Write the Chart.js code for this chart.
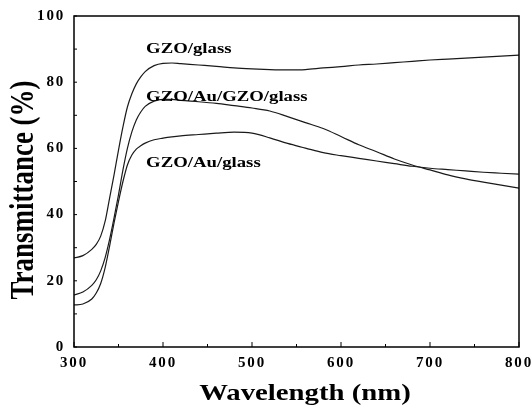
<!DOCTYPE html>
<html>
<head>
<meta charset="utf-8">
<script src="https://cdn.jsdelivr.net/npm/chart.js@4.4.1/dist/chart.umd.min.js"></script>
<style>
  html, body { margin: 0; padding: 0; background: #fff; }
  #wrap { width: 532px; height: 415px; }
</style>
</head>
<body>
<div id="wrap"><canvas id="myChart" width="532" height="415"></canvas></div>
<script>
// wavelength samples (nm)
var wavelengths = [300, 310, 320, 325, 330, 335, 340, 345, 350, 355, 360, 365, 370, 375, 380, 390, 400, 410, 420, 440, 460, 480,
                   500, 520, 540, 560, 580, 600, 620, 640, 660, 680, 700, 720, 740, 760, 780, 800];

// transmittance (%)
var gzoGlass = [26.9, 27.6, 29.5, 31.0, 33.5, 38.0, 45.0, 52.0, 59.5, 66.5, 72.5, 76.5, 79.5, 81.6, 83.2, 85.0, 85.7, 85.8, 85.6, 85.2, 84.8, 84.3,
                84.0, 83.8, 83.7, 83.8, 84.3, 84.7, 85.2, 85.5, 85.9, 86.3, 86.7, 87.0, 87.3, 87.6, 87.9, 88.2];
var gzoAuGzoGlass = [15.7, 16.6, 18.6, 20.3, 23.0, 27.0, 32.5, 39.0, 46.0, 53.5, 60.0, 65.0, 68.6, 71.0, 72.7, 74.3, 74.8, 74.8, 74.5, 74.1, 73.6, 72.9,
                     72.2, 71.3, 69.6, 67.8, 66.0, 63.6, 61.1, 59.0, 56.8, 55.0, 53.5, 52.0, 50.8, 49.8, 48.9, 48.0];
var gzoAuGlass = [12.7, 13.0, 14.5, 16.3, 19.2, 24.0, 30.5, 37.5, 44.0, 50.0, 55.0, 58.0, 59.8, 60.8, 61.6, 62.6, 63.1, 63.5, 63.8, 64.2, 64.6, 64.9,
                  64.6, 63.2, 61.5, 60.1, 58.7, 57.8, 57.0, 56.2, 55.4, 54.6, 54.0, 53.6, 53.2, 52.8, 52.5, 52.2];

var seriesLabels = ["GZO/glass", "GZO/Au/GZO/glass", "GZO/Au/glass"];
var xTicks = [300, 400, 500, 600, 700, 800];
var yTicks = [0, 20, 40, 60, 80, 100];

function toPoints(arr) {
  return wavelengths.map(function (w, i) { return { x: w, y: arr[i] }; });
}

function stretchedText(ctx, text, x, y, align, baseline, font, rot) {
  ctx.save();
  ctx.font = font;
  ctx.fillStyle = '#000';
  ctx.textAlign = align;
  ctx.textBaseline = baseline;
  ctx.letterSpacing = '0px';
  ctx.translate(x, y);
  ctx.scale(1.25, 1);
  if (rot) ctx.rotate(rot);
  ctx.fillText(text, 0, 0);
  ctx.restore();
}

var framePlugin = {
  id: 'frame',
  beforeDraw: function (chart) {
    chart.ctx.letterSpacing = '1.8px';
  },
  afterDraw: function (chart) {
    var ctx = chart.ctx;
    var a = chart.chartArea;
    var xs = chart.scales.x, ys = chart.scales.y;
    ctx.save();
    ctx.strokeStyle = '#000';
    ctx.lineWidth = 1.5;
    ctx.strokeRect(a.left, a.top, a.right - a.left, a.bottom - a.top);

    // inward tick marks
    ctx.lineWidth = 1;
    ctx.beginPath();
    for (var v = 300; v <= 800; v += 50) {
      var px = xs.getPixelForValue(v);
      var len = (v % 100 === 0) ? 5 : 3;
      ctx.moveTo(px, a.bottom);
      ctx.lineTo(px, a.bottom - len);
    }
    for (var t = 0; t <= 100; t += 10) {
      var py = ys.getPixelForValue(t);
      ctx.moveTo(a.left, py);
      ctx.lineTo(a.left + 3, py);
    }
    ctx.stroke();
    ctx.restore();

    // curve labels
    var f = 'bold 15px "Liberation Serif"';
    stretchedText(ctx, seriesLabels[0], xs.getPixelForValue(381), ys.getPixelForValue(90), 'left', 'middle', f);
    stretchedText(ctx, seriesLabels[1], xs.getPixelForValue(381), ys.getPixelForValue(75.5), 'left', 'middle', f);
    stretchedText(ctx, seriesLabels[2], xs.getPixelForValue(381), ys.getPixelForValue(55.6), 'left', 'middle', f);

    // axis titles
    stretchedText(ctx, 'Wavelength (nm)', 305, 400, 'center', 'alphabetic', 'bold 23px "Liberation Serif"');
    stretchedText(ctx, 'Transmittance (%)', 33, 190, 'center', 'alphabetic', 'bold 27px "Liberation Serif"', -Math.PI / 2);
    ctx.letterSpacing = '0px';
  }
};

function lineSet(label, arr) {
  return {
    label: label,
    data: toPoints(arr),
    borderColor: '#1a1a1a',
    borderWidth: 1.2,
    pointRadius: 0,
    fill: false,
    cubicInterpolationMode: 'monotone'
  };
}

var tickFont = { family: 'Liberation Serif', size: 15, weight: 'bold' };

var ctx = document.getElementById('myChart').getContext('2d');
var chart = new Chart(ctx, {
  type: 'line',
  data: {
    datasets: [
      lineSet(seriesLabels[0], gzoGlass),
      lineSet(seriesLabels[1], gzoAuGzoGlass),
      lineSet(seriesLabels[2], gzoAuGlass)
    ]
  },
  options: {
    responsive: false,
    animation: false,
    layout: { padding: { top: 16, right: 13, left: 0, bottom: 0 } },
    plugins: { legend: { display: false }, tooltip: { enabled: false } },
    scales: {
      x: {
        type: 'linear',
        min: 300,
        max: 800,
        afterBuildTicks: function (s) { s.ticks = xTicks.map(function (v) { return { value: v }; }); },
        afterFit: function (s) { s.height = 68; s.paddingLeft = 0; s.paddingRight = 0; },
        ticks: { font: tickFont, color: '#000', padding: 7, maxRotation: 0 },
        grid: { display: false, drawTicks: false },
        border: { display: false }
      },
      y: {
        min: 0,
        max: 100,
        afterBuildTicks: function (s) { s.ticks = yTicks.map(function (v) { return { value: v }; }); },
        afterFit: function (s) { s.width = 74; s.paddingTop = 0; s.paddingBottom = 0; },
        ticks: { font: tickFont, color: '#000', padding: 9 },
        grid: { display: false, drawTicks: false },
        border: { display: false }
      }
    }
  },
  plugins: [framePlugin]
});
</script>
</body>
</html>
